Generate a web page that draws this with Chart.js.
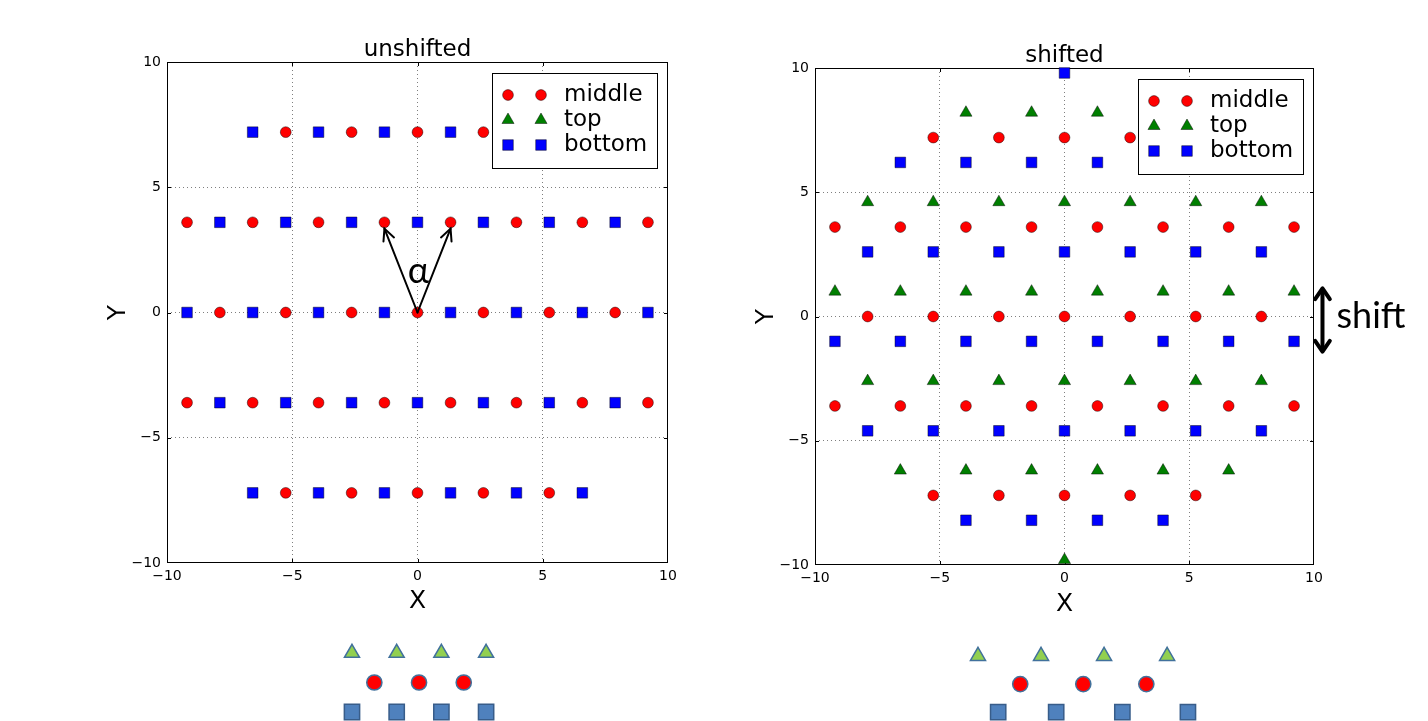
<!DOCTYPE html>
<html>
<head>
<meta charset="utf-8">
<script src="https://cdn.jsdelivr.net/npm/chart.js@4.4.1/dist/chart.umd.min.js"></script>
<style>
  body { margin: 0; background: #fff; width: 1428px; height: 721px; overflow: hidden; position: relative; }
  canvas { position: absolute; }
</style>
</head>
<body>
<canvas id="unshifted" width="610" height="590" style="left:90px;top:30px"></canvas>
<canvas id="shifted" width="688" height="590" style="left:740px;top:30px"></canvas>
<canvas id="sketchLeft" width="180" height="91" style="left:330px;top:630px"></canvas>
<canvas id="sketchRight" width="260" height="91" style="left:950px;top:630px"></canvas>
<script>
// tick labels (both axes, both charts)
var axisTicks = [-10, -5, 0, 5, 10];

// ---- unshifted lattice: one list of x per row ----
var unshiftedRowsY = [7.2, 3.6, 0, -3.6, -7.2];
var unshiftedMiddleX = [
    [-5.26, -2.63, 0, 2.63, 5.26],
    [-9.2, -6.58, -3.95, -1.32, 1.32, 3.95, 6.58, 9.2],
    [-7.89, -5.26, -2.63, 0, 2.63, 5.26, 7.89],
    [-9.2, -6.58, -3.95, -1.32, 1.32, 3.95, 6.58, 9.2],
    [-5.26, -2.63, 0, 2.63, 5.26]
];
var unshiftedBottomX = [
    [-6.58, -3.95, -1.32, 1.32, 3.95, 6.58],
    [-7.89, -5.26, -2.63, 0, 2.63, 5.26, 7.89],
    [-9.2, -6.58, -3.95, -1.32, 1.32, 3.95, 6.58, 9.2],
    [-7.89, -5.26, -2.63, 0, 2.63, 5.26, 7.89],
    [-6.58, -3.95, -1.32, 1.32, 3.95, 6.58]
];
// no triangles show in the unshifted plot
var unshiftedTopX = [[], [], [], [], []];

// ---- shifted lattice ----
var shiftedMiddleY = [7.2, 3.6, 0, -3.6, -7.2];
var shiftedMiddleX = [
    [-5.26, -2.63, 0, 2.63, 5.26],
    [-9.2, -6.58, -3.95, -1.32, 1.32, 3.95, 6.58, 9.2],
    [-7.89, -5.26, -2.63, 0, 2.63, 5.26, 7.89],
    [-9.2, -6.58, -3.95, -1.32, 1.32, 3.95, 6.58, 9.2],
    [-5.26, -2.63, 0, 2.63, 5.26]
];
var shiftedTopY = [8.2, 4.6, 1.0, -2.6, -6.2, -9.8];
var shiftedTopX = [
    [-3.95, -1.32, 1.32, 3.95],
    [-7.89, -5.26, -2.63, 0, 2.63, 5.26, 7.89],
    [-9.2, -6.58, -3.95, -1.32, 1.32, 3.95, 6.58, 9.2],
    [-7.89, -5.26, -2.63, 0, 2.63, 5.26, 7.89],
    [-6.58, -3.95, -1.32, 1.32, 3.95, 6.58],
    [0]
];
var shiftedBottomY = [9.8, 6.2, 2.6, -1.0, -4.6, -8.2];
var shiftedBottomX = [
    [0],
    [-6.58, -3.95, -1.32, 1.32, 3.95, 6.58],
    [-7.89, -5.26, -2.63, 0, 2.63, 5.26, 7.89],
    [-9.2, -6.58, -3.95, -1.32, 1.32, 3.95, 6.58, 9.2],
    [-7.89, -5.26, -2.63, 0, 2.63, 5.26, 7.89],
    [-3.95, -1.32, 1.32, 3.95]
];

// ---- little sketches under the plots (x in lattice steps, y = layer) ----
var sketchLeftTri = [0, 1, 2, 3];
var sketchLeftDot = [0.5, 1.5, 2.5];
var sketchLeftSq = [0, 1, 2, 3];
var sketchRightTri = [0, 1, 2, 3];
var sketchRightDot = [0.67, 1.67, 2.67];
var sketchRightSq = [0.32, 1.24, 2.29, 3.33];

// annotation anchors in data units
var alphaArrowTail = [0, 0];
var alphaArrowTips = [[-1.32, 3.35], [1.32, 3.35]];
var alphaLabel = [0.04, 1.64];
var shiftArrow = [10.34, 1.13, -1.41];
var shiftLabel = [10.9, 0];

Chart.defaults.font.family = 'DejaVu Sans';
Chart.defaults.color = '#000';

function toPoints(rowsY, rowsX) {
    var out = [];
    rowsY.forEach(function (y, i) {
        rowsX[i].forEach(function (x) { out.push({ x: x, y: y }); });
    });
    return out;
}

var edge = 'rgba(0,0,0,0.75)';
var styles = {
    middle: { pointStyle: 'circle', pointRadius: 5.4, backgroundColor: '#ff0000' },
    top: { pointStyle: 'triangle', pointRadius: 7, backgroundColor: '#007f00' },
    bottom: { pointStyle: 'rect', pointRadius: 7.5, backgroundColor: '#0000ff' }
};

function makeSet(label, data, order) {
    var s = styles[label];
    return {
        label: label,
        data: data,
        order: order,
        pointStyle: s.pointStyle,
        pointRadius: s.pointRadius,
        backgroundColor: s.backgroundColor,
        borderColor: edge,
        borderWidth: 0.6,
        clip: false
    };
}

function marker(ctx, style, r, x, y) {
    ctx.beginPath();
    if (style === 'circle') {
        ctx.arc(x, y, r, 0, Math.PI * 2);
    } else if (style === 'rect') {
        var h = r * Math.SQRT1_2;
        ctx.rect(x - h, y - h, 2 * h, 2 * h);
    } else {
        ctx.moveTo(x, y - r);
        ctx.lineTo(x + r * 0.866, y + r / 2);
        ctx.lineTo(x - r * 0.866, y + r / 2);
        ctx.closePath();
    }
    ctx.fill();
    ctx.stroke();
}

function arrowHead(ctx, fromX, fromY, toX, toY, len, spread) {
    var a = Math.atan2(toY - fromY, toX - fromX);
    ctx.beginPath();
    ctx.moveTo(toX - len * Math.cos(a - spread), toY - len * Math.sin(a - spread));
    ctx.lineTo(toX, toY);
    ctx.lineTo(toX - len * Math.cos(a + spread), toY - len * Math.sin(a + spread));
    ctx.stroke();
}

var decoPlugin = {
    id: 'deco',
    beforeDatasetsDraw: function (chart) {
        var ctx = chart.ctx, a = chart.chartArea;
        var sx = chart.scales.x, sy = chart.scales.y;
        ctx.save();
        ctx.strokeStyle = '#000';
        ctx.lineWidth = 1;
        ctx.strokeRect(a.left + 0.5, a.top + 0.5, a.width - 1, a.height - 1);
        // inward ticks on all four sides
        ctx.beginPath();
        [-5, 0, 5].forEach(function (v) {
            var px = Math.round(sx.getPixelForValue(v)) + 0.5;
            var py = Math.round(sy.getPixelForValue(v)) + 0.5;
            ctx.moveTo(px, a.bottom); ctx.lineTo(px, a.bottom - 4);
            ctx.moveTo(px, a.top); ctx.lineTo(px, a.top + 4);
            ctx.moveTo(a.left, py); ctx.lineTo(a.left + 4, py);
            ctx.moveTo(a.right, py); ctx.lineTo(a.right - 4, py);
        });
        ctx.stroke();
        ctx.restore();
    },
    afterDatasetsDraw: function (chart, args, opts) {
        var ctx = chart.ctx, a = chart.chartArea;
        var sx = chart.scales.x, sy = chart.scales.y;
        ctx.save();
        // title
        ctx.fillStyle = '#000';
        ctx.font = '23px "DejaVu Sans"';
        ctx.textAlign = 'center';
        ctx.textBaseline = 'middle';
        ctx.fillText(opts.title, (a.left + a.right) / 2, a.top - 12);

        // legend box in the upper right corner
        var bw = 165, bh = 95;
        var bx = a.right - 11 - bw, by = a.top + 11;
        ctx.fillStyle = '#fff';
        ctx.fillRect(bx, by, bw, bh);
        ctx.strokeStyle = '#000';
        ctx.lineWidth = 1;
        ctx.strokeRect(bx + 0.5, by + 0.5, bw, bh);
        var rows = [22, 47, 72];
        chart.data.datasets.slice().sort(function (p, q) { return p.legendRank - q.legendRank; })
            .forEach(function (ds, i) {
                var yy = by + rows[i];
                ctx.fillStyle = ds.backgroundColor;
                ctx.strokeStyle = edge;
                ctx.lineWidth = 0.6;
                marker(ctx, ds.pointStyle, ds.pointRadius, bx + 16, yy);
                marker(ctx, ds.pointStyle, ds.pointRadius, bx + 49, yy);
                ctx.fillStyle = '#000';
                ctx.font = '23px "DejaVu Sans"';
                ctx.textAlign = 'left';
                ctx.textBaseline = 'middle';
                ctx.fillText(ds.label, bx + 72, yy);
            });

        if (opts.alpha) {
            var tx = sx.getPixelForValue(alphaArrowTail[0]), ty = sy.getPixelForValue(alphaArrowTail[1]);
            ctx.strokeStyle = '#000';
            ctx.lineWidth = 2;
            ctx.lineCap = 'round';
            alphaArrowTips.forEach(function (p) {
                var hx = sx.getPixelForValue(p[0]), hy = sy.getPixelForValue(p[1]);
                ctx.beginPath();
                ctx.moveTo(tx, ty);
                ctx.lineTo(hx, hy);
                ctx.stroke();
                arrowHead(ctx, tx, ty, hx, hy, 13, 0.45);
            });
            ctx.fillStyle = '#000';
            ctx.font = '36px Lato';
            ctx.textAlign = 'center';
            ctx.textBaseline = 'middle';
            ctx.fillText('\u03b1', sx.getPixelForValue(alphaLabel[0]), sy.getPixelForValue(alphaLabel[1]));
        }
        if (opts.shift) {
            var x = sx.getPixelForValue(shiftArrow[0]);
            var y1 = sy.getPixelForValue(shiftArrow[1]), y2 = sy.getPixelForValue(shiftArrow[2]);
            ctx.strokeStyle = '#000';
            ctx.lineWidth = 4;
            ctx.lineCap = 'round';
            ctx.lineJoin = 'round';
            ctx.beginPath();
            ctx.moveTo(x, y1 + 2);
            ctx.lineTo(x, y2 - 2);
            ctx.stroke();
            arrowHead(ctx, x, y2, x, y1, 13, 0.6);
            arrowHead(ctx, x, y1, x, y2, 13, 0.6);
            ctx.fillStyle = '#000';
            ctx.font = '36px Lato';
            ctx.textAlign = 'left';
            ctx.textBaseline = 'middle';
            ctx.fillText('shift', sx.getPixelForValue(shiftLabel[0]), sy.getPixelForValue(shiftLabel[1]));
        }
        ctx.restore();
    }
};

function minusSign(v) {
    return v < 0 ? '\u2212' + Math.abs(v) : String(v);
}

function axis(opts) {
    return {
        type: 'linear',
        min: -10,
        max: 10,
        afterBuildTicks: function (s) { s.ticks = axisTicks.map(function (v) { return { value: v }; }); },
        afterFit: opts.fit,
        grid: {
            drawTicks: false,
            lineWidth: 1,
            color: function (c) {
                return (c.tick && Math.abs(c.tick.value) === 10) ? 'rgba(0,0,0,0)' : 'rgba(0,0,0,0.5)';
            }
        },
        border: { display: false, dash: [1, 3] },
        ticks: {
            padding: opts.tickPad,
            font: { size: 14 },
            color: '#000',
            maxRotation: 0,
            callback: function (v) { return minusSign(v); }
        },
        title: {
            display: true,
            text: opts.title,
            font: { size: 25 },
            color: '#000',
            padding: opts.titlePad
        }
    };
}

function lattice(id, title, sets, pad, yw, xh, yPad, xPad, extra) {
    var cfg = {
        type: 'scatter',
        data: { datasets: sets },
        options: {
            responsive: false,
            animation: false,
            events: [],
            layout: { padding: pad, autoPadding: false },
            plugins: {
                legend: { display: false },
                tooltip: { enabled: false },
                deco: Object.assign({ title: title }, extra)
            },
            scales: {
                x: axis({ title: 'X', tickPad: 5, titlePad: { top: 0, bottom: xPad },
                    fit: function (s) { s.height = xh; } }),
                y: axis({ title: 'Y', tickPad: 6, titlePad: { top: yPad, bottom: 0 },
                    fit: function (s) { s.width = yw; } })
            }
        },
        plugins: [decoPlugin]
    };
    return new Chart(document.getElementById(id), cfg);
}

function ranked(ds, rank) { ds.legendRank = rank; return ds; }

lattice('unshifted', 'unshifted', [
    ranked(makeSet('middle', toPoints(unshiftedRowsY, unshiftedMiddleX), 1), 0),
    ranked(makeSet('top', toPoints(unshiftedRowsY, unshiftedTopX), 3), 1),
    ranked(makeSet('bottom', toPoints(unshiftedRowsY, unshiftedBottomX), 2), 2)
], { left: 0, top: 32, right: 32, bottom: 0 }, 77, 57, 13, 4, { alpha: true });

lattice('shifted', 'shifted', [
    ranked(makeSet('middle', toPoints(shiftedMiddleY, shiftedMiddleX), 1), 0),
    ranked(makeSet('top', toPoints(shiftedTopY, shiftedTopX), 3), 1),
    ranked(makeSet('bottom', toPoints(shiftedBottomY, shiftedBottomX), 2), 2)
], { left: 0, top: 38, right: 114, bottom: 0 }, 75, 55, 11, 1, { shift: true });

// sketches
function sketch(id, tri, dot, sq, xr, yr) {
    var line = '#41719c';
    function row(xs, y) { return xs.map(function (x) { return { x: x, y: y }; }); }
    new Chart(document.getElementById(id), {
        type: 'scatter',
        data: {
            datasets: [
                { data: row(tri, 2), pointStyle: 'triangle', pointRadius: 8.7, backgroundColor: '#92d050', borderColor: line, borderWidth: 1.5, clip: false },
                { data: row(dot, 1), pointStyle: 'circle', pointRadius: 7.6, backgroundColor: '#ff0000', borderColor: line, borderWidth: 1.5, clip: false },
                { data: row(sq, 0), pointStyle: 'rect', pointRadius: 10.8, backgroundColor: '#4f81bd', borderColor: '#385d8a', borderWidth: 1.5, clip: false }
            ]
        },
        options: {
            responsive: false,
            animation: false,
            events: [],
            layout: { padding: 0, autoPadding: false },
            plugins: { legend: { display: false }, tooltip: { enabled: false } },
            scales: {
                x: { type: 'linear', display: false, min: xr[0], max: xr[1] },
                y: { type: 'linear', display: false, min: yr[0], max: yr[1] }
            }
        }
    });
}

sketch('sketchLeft', sketchLeftTri, sketchLeftDot, sketchLeftSq, [-0.492, 3.535], [-0.305, 2.78]);
sketch('sketchRight', sketchRightTri, sketchRightDot, sketchRightSq, [-0.444, 3.68], [-0.32, 2.93]);
</script>
</body>
</html>
